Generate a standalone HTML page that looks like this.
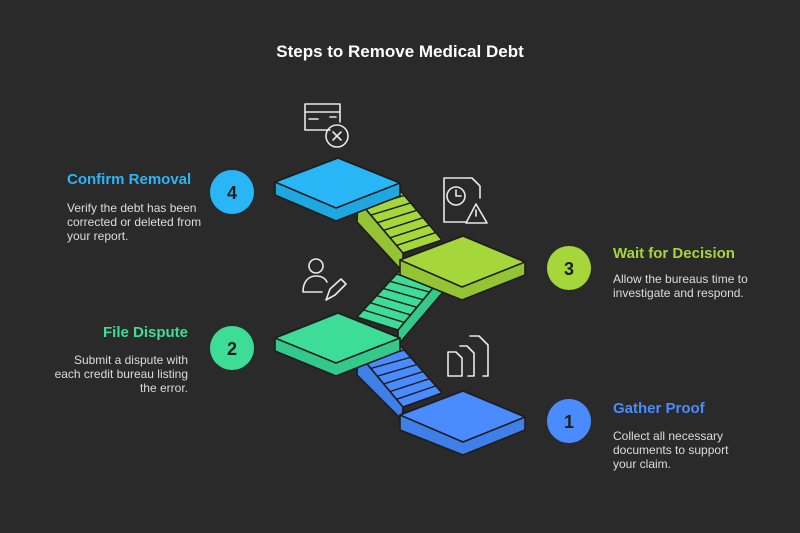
<!DOCTYPE html>
<html><head><meta charset="utf-8"><style>
body{margin:0;background:#2a2a2a;}
svg{display:block}
text{font-family:"Liberation Sans",sans-serif}
</style></head><body>
<svg width="800" height="533" viewBox="0 0 800 533">
<rect width="800" height="533" fill="#2a2a2a"/>
<text x="400" y="57" text-anchor="middle" fill="#fff" font-size="17" font-weight="bold">Steps to Remove Medical Debt</text>

<g stroke="#1d1d1d" stroke-width="1.6" stroke-linejoin="round">
<!-- lime stairs -->
<polygon points="358,200 403,253 403,272 357,222" fill="#94c434"/>
<polygon points="358,200 398,188 442,240 403,253" fill="#a5d63a"/>
<!-- green stairs -->
<polygon points="398,330 442,277 443,292 398,345" fill="#34c98a"/>
<polygon points="357,317 403,267 442,277 398,330" fill="#3ddc97"/>
<!-- blue stairs -->
<polygon points="358,353 403,407 402,420 357,375" fill="#3f7fe8"/>
<polygon points="358,353 398,343 442,393 403,407" fill="#4a8cff"/>
</g>
<g stroke="#1d1d1d" stroke-width="1.4">
<line x1="364.4" y1="207.6" x2="404.3" y2="195.4"/><line x1="370.9" y1="215.1" x2="410.6" y2="202.9"/><line x1="377.3" y1="222.7" x2="416.9" y2="210.3"/><line x1="383.7" y1="230.3" x2="423.1" y2="217.7"/><line x1="390.1" y1="237.8" x2="429.4" y2="225.1"/><line x1="396.6" y1="245.4" x2="435.7" y2="232.6"/>
<line x1="364.4" y1="360.7" x2="404.3" y2="350.1"/><line x1="370.9" y1="368.4" x2="410.6" y2="357.3"/><line x1="377.3" y1="376.2" x2="416.9" y2="364.5"/><line x1="383.7" y1="383.9" x2="423.1" y2="371.6"/><line x1="390.1" y1="391.6" x2="429.4" y2="378.7"/><line x1="396.6" y1="399.3" x2="435.7" y2="385.9"/>
<line x1="363.6" y1="309.9" x2="404.3" y2="322.4"/><line x1="370.1" y1="302.7" x2="410.6" y2="314.9"/><line x1="376.7" y1="295.6" x2="416.9" y2="307.3"/><line x1="383.3" y1="288.4" x2="423.1" y2="299.7"/><line x1="389.9" y1="281.3" x2="429.4" y2="292.1"/><line x1="396.4" y1="274.1" x2="435.7" y2="284.6"/>
</g>
<g stroke="#1d1d1d" stroke-width="1.6" stroke-linejoin="round">
<!-- platform 4 -->
<path d="M275,182 L338,158 L400,183 L400,196 L336,221 L275,195 Z" fill="#1fa8e0"/>
<path d="M275,182 L338,158 L400,183 L336,208 Z" fill="#29b6f6"/>
<!-- platform 3 -->
<path d="M400,260 L463,236 L525,262 L525,275 L462,300 L400,275 Z" fill="#94c434"/>
<path d="M400,260 L463,236 L525,262 L462,287 Z" fill="#a5d63a"/>
<!-- platform 2 -->
<path d="M275,338 L338,313 L400,338 L400,351 L336,376 L275,351 Z" fill="#34c98a"/>
<path d="M275,338 L338,313 L400,338 L336,363 Z" fill="#3ddc97"/>
<!-- platform 1 -->
<path d="M400,415 L463,391 L525,417 L525,430 L463,455 L400,430 Z" fill="#3f7fe8"/>
<path d="M400,415 L463,391 L525,417 L463,442 Z" fill="#4a8cff"/>
</g>

<!-- icons -->
<g fill="none" stroke="#e8e8e8" stroke-width="1.6" stroke-linecap="round" stroke-linejoin="round">
<path d="M330,130 H305 V104 H340 V122"/><line x1="305" y1="112" x2="340" y2="112"/><line x1="309" y1="119" x2="318" y2="119"/><line x1="330" y1="117" x2="336" y2="117"/>
<circle cx="337" cy="136" r="11"/><path d="M333,132 l8,8 M341,132 l-8,8"/>
<path d="M466,222 H444 V178 H472 L480,186 V198"/><circle cx="456" cy="196" r="9"/><path d="M456,190 V196 H461"/>
<path d="M476,204 L487,223 H466 Z"/><line x1="476" y1="210" x2="476" y2="216"/>
<circle cx="316" cy="266" r="7"/><path d="M303,292 C303,281 309,276 316,276 C321,276 325,278 327,282 M303,292 H322"/>
<path d="M326,300 L330,289 L341,279 L346,284 L335,295 Z"/>
<path d="M448,376 V352 H456 L462,358 V376 Z"/><path d="M460,346 H467 L474,353 V376 H468"/><path d="M470,336 H479 L488,345 V376 H483"/>
</g>

<circle cx="232" cy="192" r="22" fill="#29b6f6"/><text x="232" y="199" text-anchor="middle" font-size="18" font-weight="bold" fill="#1e1e1e">4</text>
<circle cx="569" cy="268" r="22" fill="#a5d63a"/><text x="569" y="275" text-anchor="middle" font-size="18" font-weight="bold" fill="#1e1e1e">3</text>
<circle cx="232" cy="348" r="22" fill="#3ddc97"/><text x="232" y="355" text-anchor="middle" font-size="18" font-weight="bold" fill="#1e1e1e">2</text>
<circle cx="569" cy="421" r="22" fill="#4a8cff"/><text x="569" y="428" text-anchor="middle" font-size="18" font-weight="bold" fill="#1e1e1e">1</text>

<g font-size="12" fill="#dcdcdc">
<text x="67" y="184" font-size="15" font-weight="bold" fill="#29b6f6">Confirm Removal</text>
<text x="67" y="212">Verify the debt has been</text><text x="67" y="226">corrected or deleted from</text><text x="67" y="240">your report.</text>
<text x="613" y="258" font-size="15" font-weight="bold" fill="#a5d63a">Wait for Decision</text>
<text x="613" y="283">Allow the bureaus time to</text><text x="613" y="297">investigate and respond.</text>
<g text-anchor="end">
<text x="188" y="337" font-size="15" font-weight="bold" fill="#3ddc97">File Dispute</text>
<text x="188" y="364">Submit a dispute with</text><text x="188" y="378">each credit bureau listing</text><text x="188" y="392">the error.</text>
</g>
<text x="613" y="413" font-size="15" font-weight="bold" fill="#4a8cff">Gather Proof</text>
<text x="613" y="440">Collect all necessary</text><text x="613" y="454">documents to support</text><text x="613" y="468">your claim.</text>
</g>
</svg>
</body></html>
